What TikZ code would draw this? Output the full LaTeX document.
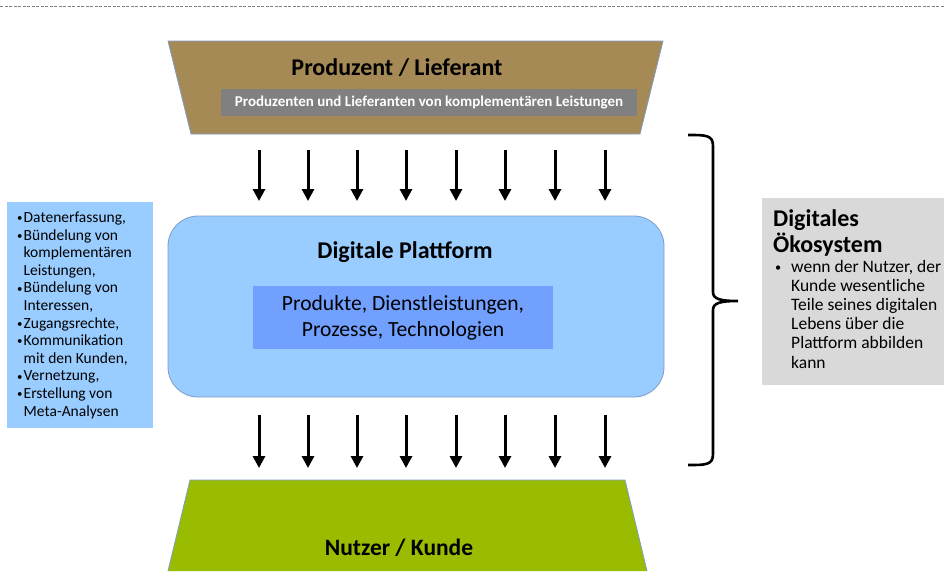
\documentclass[tikz,border=0pt]{standalone}
\usepackage{fontspec}
\setmainfont{Carlito}
\usetikzlibrary{arrows.meta}
\definecolor{brownfill}{HTML}{A68A55}
\definecolor{edgeblue}{HTML}{7F9CC8}
\definecolor{platfill}{HTML}{99CCFF}
\definecolor{innerfill}{HTML}{71A0FF}
\definecolor{greybar}{HTML}{808080}
\definecolor{greenfill}{HTML}{99BB00}
\definecolor{ecofill}{HTML}{D9D9D9}
\tikzset{
  flow/.style={line width=3pt,-{Triangle[length=12pt,width=12pt]}},
  shapeedge/.style={draw=edgeblue,line width=0.8pt},
  bul/.style={inner sep=0pt,anchor=base west}
}
\newcommand{\smalldot}{\raisebox{0.8pt}{\scalebox{0.7}{•}}}
\newcommand{\bt}{\makebox[6.5pt][l]{\smalldot}}
\newcommand{\bi}{\hspace*{6.5pt}}
\begin{document}
\begin{tikzpicture}[x=1pt,y=-1pt]
\useasboundingbox (0,0) rectangle (944,571);

% dashed rule along the top
\draw[gray,dash pattern=on 3pt off 1.5pt,line width=0.8pt] (0,6) -- (944,6);

% producer trapezoid
\filldraw[shapeedge,fill=brownfill] (168,41) -- (663,41) -- (640,134) -- (191,134) -- cycle;
\node[font=\fontsize{24}{28}\selectfont\bfseries] (prod) at (397,68) {Produzent / Lieferant};
\node[fill=greybar,minimum width=416pt,minimum height=27pt,inner sep=0pt,
      font=\fontsize{15}{18}\selectfont\bfseries,text=white] (prodsub) at (429,102.5)
  {Produzenten und Lieferanten von komplementären Leistungen};

% platform
\filldraw[shapeedge,fill=platfill,rounded corners=30pt] (168,216) rectangle (664,397);
\node[font=\fontsize{24}{28}\selectfont\bfseries] (plattitle) at (405,252) {Digitale Plattform};
\node[fill=innerfill,minimum width=300pt,minimum height=63pt,inner sep=0pt,align=center,
      font=\fontsize{21.6}{26}\selectfont] (inner) at (403,317.5)
  {Produkte, Dienstleistungen,\\Prozesse, Technologien};

% arrows into and out of the platform
\foreach \i/\x in {1/259,2/308,3/357,4/406,5/456,6/505,7/555,8/605}{
  \coordinate (ta\i) at (\x,150);
  \coordinate (tb\i) at (\x,201);
  \coordinate (ba\i) at (\x,415);
  \coordinate (bb\i) at (\x,468);
  \draw[flow] (ta\i) -- (tb\i);
  \draw[flow] (ba\i) -- (bb\i);
}

% customer trapezoid
\fill[greenfill] (190,480) -- (625,480) -- (647,571) -- (168,571) -- cycle;
\draw[shapeedge] (168,571) -- (190,480) -- (625,480) -- (647,571);
\node[font=\fontsize{23.5}{28}\selectfont\bfseries] (user) at (399,548) {Nutzer / Kunde};

% functions box on the left
\fill[platfill] (7,202) rectangle (153,428);
\node[bul,align=left,font=\fontsize{15.5}{17.6}\selectfont] (funcs) at (17,416)
  {\bt Datenerfassung,\\
   \bt Bündelung von\\
   \bi komplementären\\
   \bi Leistungen,\\
   \bt Bündelung von\\
   \bi Interessen,\\
   \bt Zugangsrechte,\\
   \bt Kommunikation\\
   \bi mit den Kunden,\\
   \bt Vernetzung,\\
   \bt Erstellung von\\
   \bi Meta-Analysen};

% brace spanning the ecosystem
\coordinate (brtop) at (688,135);
\coordinate (brbot) at (688,465);
\coordinate (brtip) at (738,301);
\draw[line width=2.6pt] (brtop) .. controls (706,135) and (713,135) .. (713,146)
  -- (713,292) .. controls (713,299) and (720,301) .. (brtip)
  .. controls (720,301) and (713,303) .. (713,310)
  -- (713,454) .. controls (713,465) and (706,465) .. (brbot);

% ecosystem box on the right
\fill[ecofill] (762,198) rectangle (944,385);
\node[bul,align=left,font=\fontsize{24}{26}\selectfont\bfseries] (ecotitle) at (773,252)
  {Digitales\\Ökosystem};
\node[bul,font=\fontsize{17.5}{19.2}\selectfont] (ecobul) at (775,272) {\smalldot};
\node[bul,align=left,font=\fontsize{17.5}{19.2}\selectfont] (ecotext) at (791,368)
  {wenn der Nutzer, der\\Kunde wesentliche\\Teile seines digitalen\\Lebens über die\\Plattform abbilden\\kann};
\end{tikzpicture}
\end{document}
